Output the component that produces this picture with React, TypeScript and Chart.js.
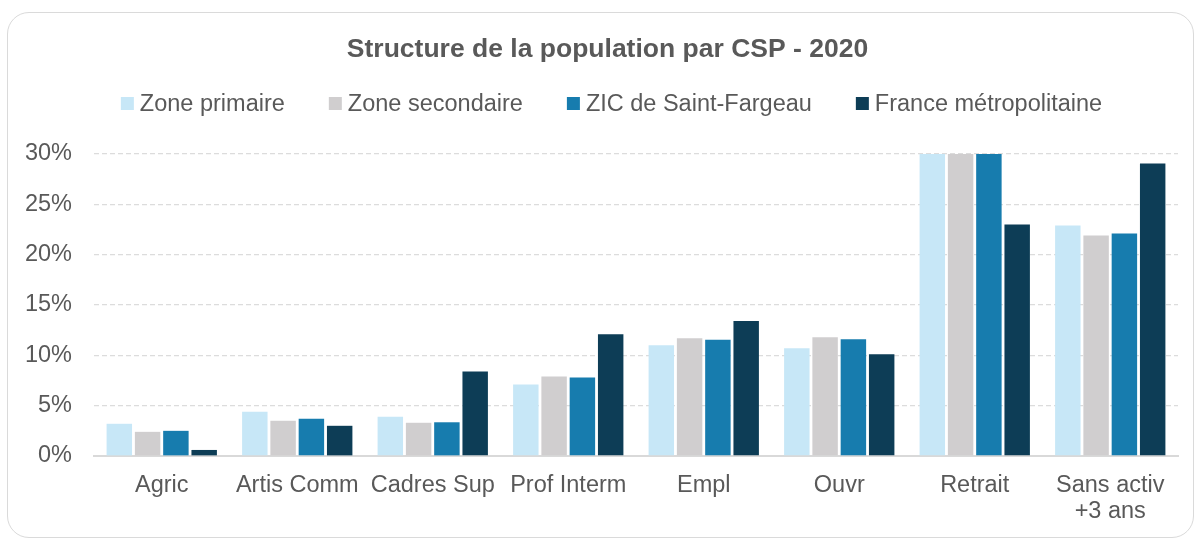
import React, { useEffect, useRef } from "react";
import { Chart, registerables } from "chart.js";

Chart.register(...registerables);

const TITLE = "Structure de la population par CSP - 2020";
const categories: (string | string[])[] = [
  "Agric",
  "Artis Comm",
  "Cadres Sup",
  "Prof Interm",
  "Empl",
  "Ouvr",
  "Retrait",
  ["Sans activ", "+3 ans"],
];
const seriesNames = ["Zone primaire", "Zone secondaire", "ZIC de Saint-Fargeau", "France métropolitaine"];
const zonePrimaire = [3.2, 4.4, 3.9, 7.1, 11.0, 10.7, 33.0, 22.9];
const zoneSecondaire = [2.4, 3.5, 3.3, 7.9, 11.7, 11.8, 33.5, 21.9];
const zicSaintFargeau = [2.5, 3.7, 3.35, 7.8, 11.55, 11.6, 32.5, 22.1];
const franceMetro = [0.6, 3.0, 8.4, 12.1, 13.4, 10.1, 23.0, 29.05];
const yTicks = [0, 5, 10, 15, 20, 25, 30];

const COLORS = ["#C7E7F7", "#D0CECF", "#177CAE", "#0D3D56"];
const TEXT = "#595959";
const FONT = '"Liberation Sans", Arial, sans-serif';

const headerPlugin = {
  id: "header",
  afterDraw(chart: any) {
    const ctx = chart.ctx as CanvasRenderingContext2D;
    ctx.save();
    ctx.fillStyle = TEXT;
    ctx.font = `bold 26.5px ${FONT}`;
    ctx.textAlign = "center";
    ctx.textBaseline = "alphabetic";
    ctx.fillText(TITLE, 607.5, 57);

    ctx.font = `23.5px ${FONT}`;
    ctx.textAlign = "left";
    const box = 13;
    const gap = 6;
    const itemGap = 44;
    const items = chart.data.datasets.map((d: any) => ({
      label: d.label as string,
      color: d.backgroundColor as string,
      w: ctx.measureText(d.label).width,
    }));
    const total =
      items.reduce((s: number, it: any) => s + box + gap + it.w, 0) + itemGap * (items.length - 1);
    let x = 611.5 - total / 2;
    for (const it of items) {
      ctx.fillStyle = it.color;
      ctx.fillRect(x, 97, box, box);
      ctx.fillStyle = TEXT;
      ctx.fillText(it.label, x + box + gap, 111);
      x += box + gap + it.w + itemGap;
    }
    ctx.restore();
  },
};

export default function App() {
  const ref = useRef<HTMLCanvasElement | null>(null);

  useEffect(() => {
    if (!ref.current) return;
    const seriesData = [zonePrimaire, zoneSecondaire, zicSaintFargeau, franceMetro];
    const chart = new Chart(ref.current, {
      type: "bar",
      data: {
        labels: categories,
        datasets: seriesNames.map((name, i) => ({
          label: name,
          data: seriesData[i],
          backgroundColor: COLORS[i],
          borderWidth: 0,
          categoryPercentage: 0.835,
          barPercentage: 0.9,
          clip: 0,
        })),
      },
      options: {
        responsive: false,
        animation: false,
        devicePixelRatio: 1,
        layout: { padding: { left: 0, right: 18, top: 154, bottom: 0 } },
        plugins: {
          legend: { display: false },
          title: { display: false },
          tooltip: { enabled: false },
        },
        scales: {
          x: {
            grid: { display: false, drawTicks: false },
            border: { display: true, color: "#D9D9D9", width: 2 },
            ticks: {
              color: TEXT,
              font: { family: FONT, size: 23.5, lineHeight: 1.128 },
              padding: 16,
              maxRotation: 0,
              autoSkip: false,
            },
            afterFit: (s: any) => {
              s.height = 82;
            },
          },
          y: {
            min: 0,
            max: 30,
            afterBuildTicks: (s: any) => {
              s.ticks = yTicks.map((v) => ({ value: v }));
            },
            grid: {
              drawTicks: false,
              lineWidth: 1.3,
              color: (c: any) => (c.tick && c.tick.value === 0 ? "rgba(0,0,0,0)" : "#DCDCDC"),
            },
            border: { display: false, dash: [5, 3] },
            ticks: {
              color: TEXT,
              font: { family: FONT, size: 23.5 },
              padding: 22,
              callback: (v: any) => `${v}%`,
            },
            afterFit: (s: any) => {
              s.width = 94;
            },
          },
        },
      },
      plugins: [headerPlugin],
    });
    return () => chart.destroy();
  }, []);

  return (
    <div style={{ position: "absolute", left: 0, top: 0, width: 1196, height: 538, background: "#fff" }}>
      <div
        style={{
          position: "absolute",
          left: 7,
          top: 12,
          width: 1187,
          height: 526,
          border: "1px solid #DADADA",
          borderRadius: 22,
          boxSizing: "border-box",
        }}
      />
      <canvas ref={ref} width={1196} height={538} style={{ position: "absolute", left: 0, top: 0 }} />
    </div>
  );
}
